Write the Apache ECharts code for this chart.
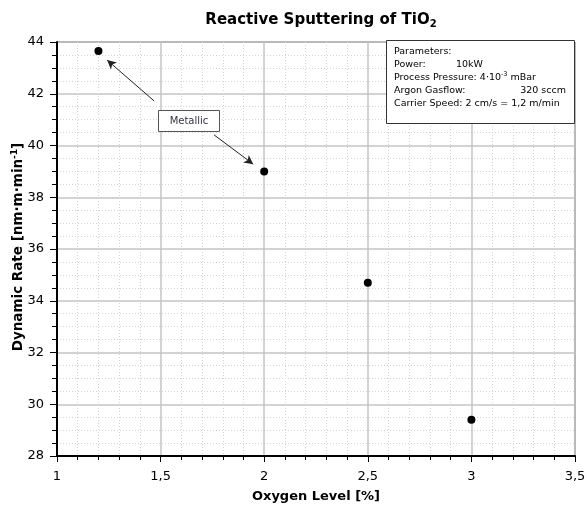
<!DOCTYPE html>
<html>
<head>
<meta charset="utf-8">
<script src="https://cdn.jsdelivr.net/npm/echarts@6/dist/echarts.min.js"></script>
<style>html,body{margin:0;padding:0;background:#fff}#c{width:587px;height:508px}</style>
</head>
<body>
<div id="c"></div>
<script>
// ---- data ----
const oxygenLevel = [1.2, 2.0, 2.5, 3.0];
const dynamicRate = [43.65, 39.0, 34.7, 29.4];
const xTicks = { min: 1, max: 3.5, interval: 0.5 };
const yTicks = { min: 28, max: 44, interval: 2 };
// annotation "Metallic" label position (data coords) and its arrows [from, to]
const metallicLabel = [1.633, 40.99];
const metallicArrows = [
  [[1.469, 41.72], [1.242, 43.30]],
  [[1.758, 40.41], [1.947, 39.28]]
];
const paramLines = [
  'Parameters:',
  'Power:          10kW',
  'Process Pressure: 4·10{s|-3} mBar',
  'Argon Gasflow:',
  'Carrier Speed: 2 cm/s = 1,2 m/min'
];
const yTitle = 'Dynamic Rate [nm·m·min{sup|-1}]';

const FONT = '"DejaVu Sans", Verdana, sans-serif';
const chart = echarts.init(document.getElementById('c'));
const comma = v => String(v).replace('.', ',');

const option = {
  animation: false,
  backgroundColor: '#fff',
  title: {
    text: 'Reactive Sputtering of TiO{sub|2}',
    left: 316, top: 6, textAlign: 'center',
    textStyle: {
      fontFamily: FONT, fontSize: 15, fontWeight: 'bold', color: '#000',
      rich: { sub: { fontFamily: FONT, fontSize: 10, fontWeight: 'bold', verticalAlign: 'bottom', padding: [8, 0, 0, 0], color: '#000' } }
    }
  },
  grid: { left: 57, right: 12, top: 42, bottom: 52, show: true, borderColor: '#333', borderWidth: 1, containLabel: false, outerBoundsMode: 'none' },
  xAxis: {
    type: 'value', min: xTicks.min, max: xTicks.max, interval: xTicks.interval,
    name: 'Oxygen Level [%]', nameLocation: 'middle', nameGap: 34,
    nameTextStyle: { fontFamily: FONT, fontSize: 13, fontWeight: 'bold', color: '#000' },
    axisLine: { show: true, onZero: false, lineStyle: { color: '#000', width: 2 } },
    axisTick: { show: true, inside: false, length: 6, lineStyle: { color: '#000' } },
    minorTick: { show: true, splitNumber: 5, length: 4, lineStyle: { color: '#000' } },
    axisLabel: { fontFamily: FONT, fontSize: 13, color: '#000', margin: 14, formatter: comma, showMinLabel: true, showMaxLabel: true, hideOverlap: false },
    splitLine: { show: true, lineStyle: { color: '#c4c4c4', width: 1.5 } },
    minorSplitLine: { show: true, lineStyle: { color: '#d4d4d4', type: [1, 2], width: 1 } }
  },
  yAxis: {
    type: 'value', min: yTicks.min, max: yTicks.max, interval: yTicks.interval,
    axisLine: { show: true, onZero: false, lineStyle: { color: '#000', width: 2 } },
    axisTick: { show: true, inside: false, length: 7, lineStyle: { color: '#000' } },
    minorTick: { show: true, splitNumber: 4, length: 5, lineStyle: { color: '#000' } },
    axisLabel: { fontFamily: FONT, fontSize: 13, color: '#000', margin: 13 },
    splitLine: { show: true, lineStyle: { color: '#c4c4c4', width: 1.5 } },
    minorSplitLine: { show: true, lineStyle: { color: '#d4d4d4', type: [1, 2], width: 1 } }
  },
  series: [{
    type: 'scatter',
    data: oxygenLevel.map((x, i) => [x, dynamicRate[i]]),
    symbol: 'circle', symbolSize: 8,
    itemStyle: { color: '#000', opacity: 1 },
    markLine: {
      silent: true, symbol: ['none', 'arrow'], symbolSize: [7, 9],
      label: { show: false },
      lineStyle: { color: '#222', width: 1, type: 'solid' },
      data: metallicArrows.map(a => [{ coord: a[0] }, { coord: a[1] }])
    }
  }]
};
chart.setOption(option);

const lp = chart.convertToPixel({ gridIndex: 0 }, metallicLabel);
const pTextStyle = { fontFamily: FONT, fontSize: 9.5, fill: '#000', lineHeight: 13 };
const bx = 386, by = 40;
chart.setOption({
  graphic: [
    {
      type: 'text', x: 18, y: 247, rotation: Math.PI / 2, z: 101,
      style: {
        text: yTitle, fontFamily: FONT, fontSize: 13.5, fontWeight: 'bold', fill: '#000', align: 'center', verticalAlign: 'middle',
        rich: { sup: { fontFamily: FONT, fontSize: 9, fontWeight: 'bold', verticalAlign: 'top', padding: [0, 0, 6, 0], fill: '#000' } }
      }
    },
    { type: 'rect', x: bx, y: by, shape: { x: 0.5, y: 0.5, width: 188, height: 83 }, style: { fill: '#fff', stroke: '#333', lineWidth: 1 }, z: 100 },
    {
      type: 'text', x: bx + 8, y: by + 5, z: 101,
      style: {
        text: paramLines.join('\n'), ...pTextStyle,
        rich: { s: { fontFamily: FONT, fontSize: 6.5, verticalAlign: 'top', padding: [0, 0, 5, 0], fill: '#000' } }
      }
    },
    { type: 'text', x: bx + 180, y: by + 5 + 39, z: 101, style: { text: '320 sccm', align: 'right', verticalAlign: 'top', ...pTextStyle } },
    { type: 'rect', x: Math.round(lp[0]) - 30, y: Math.round(lp[1]) - 10, z: 100, shape: { x: 0.5, y: 0.5, width: 61, height: 21 }, style: { fill: '#fff', stroke: '#555', lineWidth: 1 } },
    { type: 'text', x: Math.round(lp[0]) + 1, y: Math.round(lp[1]) + 1, z: 101, style: { text: 'Metallic', fontFamily: FONT, fontSize: 10, fill: '#334', align: 'center', verticalAlign: 'middle' } }
  ]
});
</script>
</body>
</html>
